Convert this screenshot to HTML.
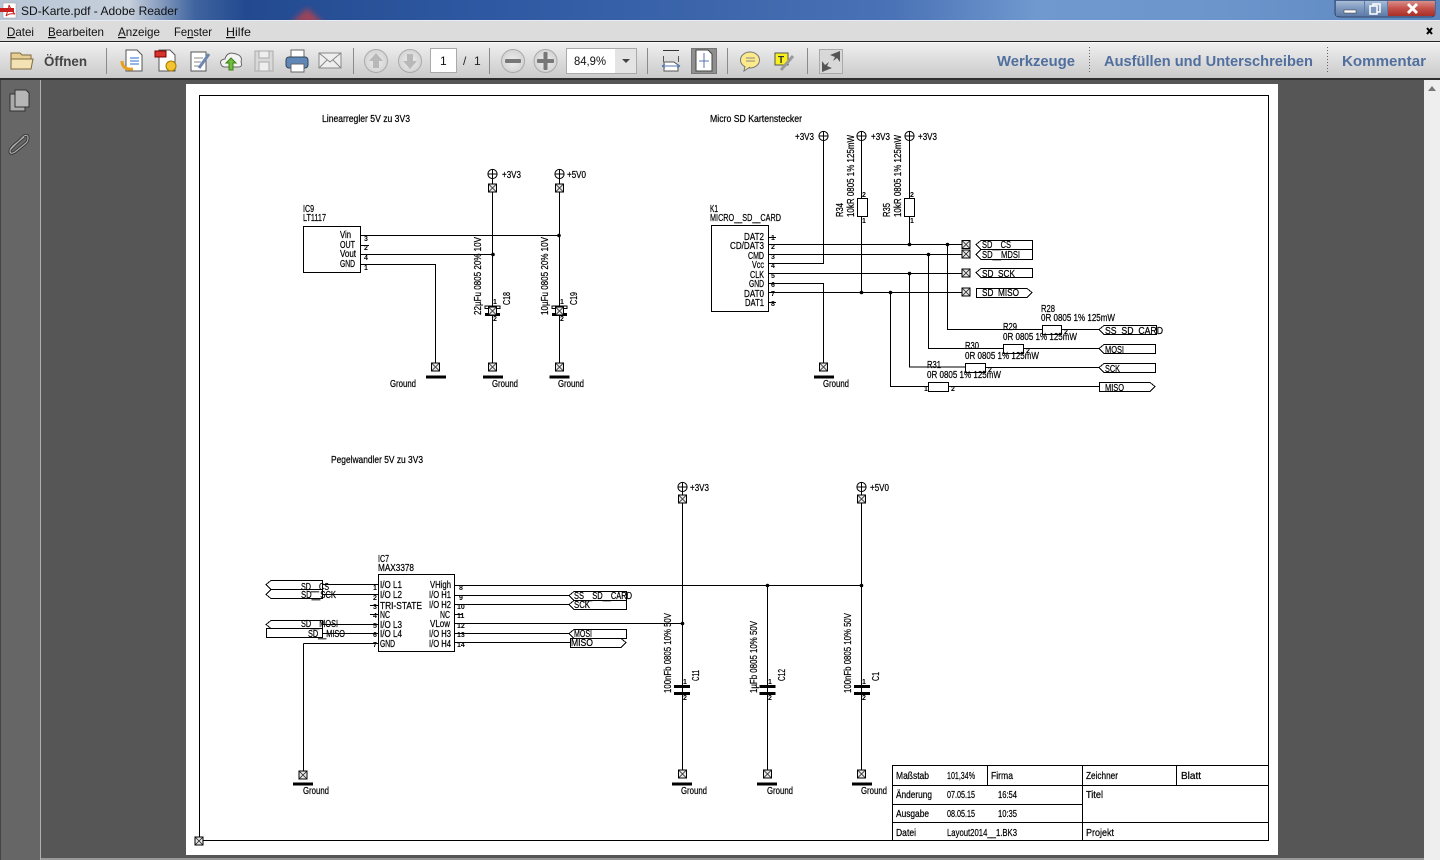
<!DOCTYPE html>
<html><head><meta charset="utf-8"><title>SD-Karte.pdf - Adobe Reader</title>
<style>
html,body{margin:0;padding:0;background:#555;width:1440px;height:860px;overflow:hidden}
svg{position:absolute;left:0;top:0;display:block}
.w{fill:none;stroke:#000;stroke-width:1;shape-rendering:crispEdges}
.t text{font-family:"Liberation Sans",sans-serif;font-size:10px;fill:#000;stroke:#000;stroke-width:.22;white-space:pre}
.p text{font-family:"Liberation Sans",sans-serif;font-size:7px;font-weight:bold;fill:#000}
.u text{font-family:"Liberation Sans",sans-serif}
.m text{font-size:12px;fill:#111}
.b{font-weight:bold;font-size:15px;fill:#506f9e}
</style></head><body>
<svg width="1440" height="860" viewBox="0 0 1440 860" xmlns="http://www.w3.org/2000/svg">
<defs>
<filter id="bl" x="-30%" y="-30%" width="160%" height="160%"><feGaussianBlur stdDeviation="3"/></filter>
<linearGradient id="tb" x1="0" x2="1" y1="0" y2="0">
<stop offset="0" stop-color="#b9c6d6"/><stop offset=".09" stop-color="#c6cfdb"/><stop offset=".135" stop-color="#3f649f"/><stop offset=".17" stop-color="#234a90"/><stop offset=".35" stop-color="#2f5aa3"/><stop offset=".5" stop-color="#3d66ac"/><stop offset=".62" stop-color="#4a72b6"/><stop offset=".72" stop-color="#7099cf"/><stop offset=".85" stop-color="#6b95cb"/><stop offset="1" stop-color="#5c86bf"/>
</linearGradient>
<linearGradient id="tool" x1="0" x2="0" y1="0" y2="1"><stop offset="0" stop-color="#f0f0f0"/><stop offset="1" stop-color="#c9c9c9"/></linearGradient>
<linearGradient id="red" x1="0" x2="0" y1="0" y2="1"><stop offset="0" stop-color="#d9908a"/><stop offset=".5" stop-color="#c4504a"/><stop offset="1" stop-color="#a83028"/></linearGradient>
<linearGradient id="blu" x1="0" x2="0" y1="0" y2="1"><stop offset="0" stop-color="#a8bdd8"/><stop offset=".5" stop-color="#7d97bd"/><stop offset="1" stop-color="#5f7ca8"/></linearGradient>
<radialGradient id="btn"><stop offset="0" stop-color="#eee"/><stop offset="1" stop-color="#d4d4d4"/></radialGradient>
<g id="x"><rect x="-4" y="-4" width="8" height="8" fill="#e8e8e8" stroke="#000" stroke-width="1" shape-rendering="crispEdges"/><path d="M-3.5-3.5L3.5 3.5M3.5-3.5L-3.5 3.5" stroke="#222" stroke-width=".8"/></g>
<g id="pw"><circle r="4.6" fill="#fff" stroke="#000" stroke-width="1"/><path d="M-4.6 0H4.6M0-4.6V4.6" stroke="#000" stroke-width="1"/></g>
<g id="j"><circle r="1.8" fill="#000"/></g>
<g id="gb"><rect x="-10" y="-1.5" width="20" height="3" fill="#000"/></g>
<g id="cp"><rect x="-8" y="-8" width="16" height="3" fill="#000"/><rect x="-8" y="-1" width="16" height="3" fill="#000"/></g>
<g id="rb"><circle r="11.5" fill="url(#btn)" stroke="#aaa"/></g>
</defs>

<!-- window chrome -->
<rect width="1440" height="860" fill="#555"/>
<rect width="1440" height="21" fill="url(#tb)"/>
<path d="M290 24L307 8L325 24Z" fill="#b2434f" opacity=".85" filter="url(#bl)"/>
<rect y="20" width="1440" height="1" fill="#e8edf3"/>
<rect y="21" width="1440" height="21" fill="#dcdcdc"/>
<rect y="41" width="1440" height="1" fill="#222"/>
<rect y="42" width="1440" height="37" fill="url(#tool)"/>
<rect y="42" width="1440" height="1" fill="#fafafa"/>
<rect y="78" width="1440" height="2" fill="#2e2e2e"/>
<rect y="80" x="0" width="41" height="780" fill="#666"/>
<rect y="80" x="0" width="1" height="780" fill="#444"/>
<rect y="80" x="40" width="1" height="780" fill="#b0b0b0"/>
<rect y="80" x="41" width="1383" height="780" fill="#565656"/>
<rect y="80" x="1424" width="16" height="780" fill="#eee"/>
<path d="M1428 91L1432 86L1436 91Z" fill="#777"/>
<rect y="858" x="41" width="1383" height="2" fill="#9a9a9a"/>

<!-- title bar -->
<rect x="3" y="3" width="13" height="15" fill="#fff" stroke="#999" stroke-width=".5"/><rect x="0" y="8" width="14" height="4" fill="#c8201e"/><path d="M6 16Q9 8 9 5Q12 12 15 14Q9 13 6 16" fill="none" stroke="#c8201e" stroke-width="1"/>
<g class="u"><text x="21" y="15" font-size="12" fill="#111" textLength="157" lengthAdjust="spacingAndGlyphs">SD-Karte.pdf - Adobe Reader</text></g>
<path d="M1335 0H1435V13Q1435 17 1431 17H1341Q1335 17 1335 13Z" fill="#5b7cae" stroke="#34496b"/>
<rect x="1336" y="1" width="28" height="15" fill="url(#blu)"/><rect x="1365" y="1" width="22" height="15" fill="url(#blu)"/><rect x="1388" y="1" width="47" height="15" fill="url(#red)"/>
<rect x="1344" y="10" width="12" height="3" fill="#fff" stroke="#333" stroke-width=".5"/>
<rect x="1373" y="4" width="7" height="8" fill="none" stroke="#fff" stroke-width="1.5"/><rect x="1370" y="6" width="7" height="8" fill="#7d97bd" stroke="#fff" stroke-width="1.5"/>
<path d="M1408 4L1417 13M1417 4L1408 13" stroke="#fff" stroke-width="3"/>

<!-- menu -->
<g class="u m">
<text x="7" y="36" textLength="27" lengthAdjust="spacingAndGlyphs"><tspan text-decoration="underline">D</tspan>atei</text>
<text x="48" y="36" textLength="56" lengthAdjust="spacingAndGlyphs"><tspan text-decoration="underline">B</tspan>earbeiten</text>
<text x="118" y="36" textLength="42" lengthAdjust="spacingAndGlyphs"><tspan text-decoration="underline">A</tspan>nzeige</text>
<text x="174" y="36" textLength="38" lengthAdjust="spacingAndGlyphs">Fe<tspan text-decoration="underline">n</tspan>ster</text>
<text x="226" y="36" textLength="25" lengthAdjust="spacingAndGlyphs"><tspan text-decoration="underline">H</tspan>ilfe</text>
</g>
<path d="M1427 28L1432 34M1432 28L1427 34" stroke="#000" stroke-width="2"/>

<!-- toolbar -->
<g class="u">
<path d="M11 53H20L22 55H31V69H11Z" fill="#e7cf94" stroke="#7d6a3c"/><path d="M11 59H33L31 69H11Z" fill="#f3e2b3" stroke="#7d6a3c"/>
<text x="44" y="66" font-size="14" font-weight="bold" fill="#444" textLength="43" lengthAdjust="spacingAndGlyphs">Öffnen</text>
<g fill="#8a8a8a">
<rect x="106" y="48" width="1" height="26"/><rect x="353" y="48" width="1" height="26"/><rect x="489" y="48" width="1" height="26"/><rect x="647" y="48" width="1" height="26"/><rect x="727" y="48" width="1" height="26"/><rect x="807" y="48" width="1" height="26"/>
</g>
<!-- export -->
<path d="M126 50H137L142 55V71H126Z" fill="#fff" stroke="#555"/><path d="M130 58H139M130 61H139M130 64H139" stroke="#2a6fd0"/><path d="M122 61Q122 70 133 69" fill="none" stroke="#e8a020" stroke-width="3"/>
<!-- create -->
<path d="M159 50H170L175 55V71H159Z" fill="#fff" stroke="#555"/><rect x="155" y="51" width="11" height="6" fill="#d8322c" stroke="#700"/><circle cx="171" cy="66" r="5" fill="#f4c430" stroke="#a37a00"/>
<!-- sign -->
<path d="M191 52H206V71H191Z" fill="#fff" stroke="#555"/><path d="M194 58H203M194 62H201M194 66H199" stroke="#888"/><path d="M199 68L209 54" stroke="#6a87b0" stroke-width="3"/>
<!-- cloud -->
<path d="M222 66Q218 60 225 59Q227 51 236 54Q243 56 241 62Q243 67 238 67H224Z" fill="#f3f3f3" stroke="#666"/><path d="M231 58L236 63H233V70H229V63H226Z" fill="#6fbf3c" stroke="#3d7d18"/>
<!-- save -->
<path d="M255 51H273V71H255Z" fill="#d9d9d9" stroke="#aaa"/><rect x="259" y="51" width="10" height="7" fill="#eee" stroke="#aaa"/><rect x="259" y="62" width="10" height="9" fill="#eee" stroke="#aaa"/>
<!-- print -->
<rect x="291" y="50" width="13" height="8" fill="#fff" stroke="#666"/><rect x="286" y="57" width="22" height="11" rx="3" fill="#5f88b8" stroke="#345"/><rect x="291" y="64" width="13" height="8" fill="#fff" stroke="#666"/>
<!-- mail -->
<rect x="319" y="53" width="22" height="15" fill="#eee" stroke="#888"/><path d="M319 53L330 62L341 53M319 68L327 60M341 68L333 60" fill="none" stroke="#888"/>
<!-- nav -->
<use href="#rb" x="376" y="61"/><use href="#rb" x="410" y="61"/>
<path d="M376 53L383 61H379V68H373V61H369Z" fill="#b8b8b8"/><path d="M410 69L417 61H413V54H407V61H403Z" fill="#b8b8b8"/>
<rect x="430.500" y="48.500" width="26" height="24" fill="#fff" stroke="#aaa"/>
<text x="440" y="65" font-size="12" fill="#111">1</text>
<text x="463" y="65" font-size="12" fill="#222">/</text><text x="474" y="65" font-size="12" fill="#222">1</text>
<use href="#rb" x="513" y="61"/><use href="#rb" x="545.500" y="61"/>
<rect x="505" y="59" width="16" height="4" rx="1" fill="#777"/><rect x="537" y="59" width="17" height="4" rx="1" fill="#777"/><rect x="543.500" y="52" width="4" height="18" rx="1" fill="#777"/>
<rect x="566.500" y="48.500" width="70" height="25" fill="#fff" stroke="#aaa"/>
<rect x="615" y="49" width="21" height="24" fill="#e4e4e4"/>
<text x="574" y="65" font-size="12" fill="#111" textLength="32" lengthAdjust="spacingAndGlyphs">84,9%</text>
<path d="M622 59H630L626 63Z" fill="#444"/>
<!-- view -->
<rect x="663" y="50" width="16" height="1" fill="#333"/><path d="M664 62H674L678 65V71H664Z" fill="#fff" stroke="#555"/><path d="M662 66H680M662 66L665 64M662 66L665 68M680 66L677 64M680 66L677 68" stroke="#5577b0" fill="none"/><rect x="663" y="56" width="1" height="6" fill="#555"/><rect x="678" y="56" width="1" height="6" fill="#555"/>
<rect x="691.500" y="48.500" width="25" height="25" fill="#8f8f8f" stroke="#777"/><path d="M696 50H708L712 54V71H696Z" fill="#fff" stroke="#444"/><path d="M704 53V68M699 61H709" stroke="#5577b0"/>
<!-- comment -->
<ellipse cx="750" cy="60" rx="9.500" ry="8" fill="#fbe98a" stroke="#777"/><path d="M745 66L744 71L750 67" fill="#fbe98a" stroke="#777"/><path d="M746 58H755M746 61H755" stroke="#888"/>
<rect x="775" y="53" width="13" height="12" fill="#f7f01e" stroke="#555"/><text x="778" y="63" font-size="10" font-weight="bold" fill="#333">T</text><path d="M781 70L793 56" stroke="#9a9a9a" stroke-width="3"/>
<rect x="819.500" y="49.500" width="23" height="24" fill="#d8d8d8" stroke="#aaa"/><path d="M840 51L830 55L835 57L833 61L837 58L840 62Z M822 72L832 68L827 66L829 62L825 65L822 61Z" fill="#555"/>
<text x="997" y="66" class="b" textLength="78" lengthAdjust="spacingAndGlyphs">Werkzeuge</text>
<text x="1104" y="66" class="b" textLength="209" lengthAdjust="spacingAndGlyphs">Ausfüllen und Unterschreiben</text>
<text x="1342" y="66" class="b" textLength="84" lengthAdjust="spacingAndGlyphs">Kommentar</text>
<path d="M1089.500 47V74M1327.500 47V74" stroke="#666" stroke-dasharray="1 2"/>
</g>
<!-- left panel icons -->
<rect x="10" y="94" width="15" height="17" fill="#aaa" stroke="#333"/><path d="M15 90H26L29 93V107H15Z" fill="#b6b6b6" stroke="#333"/>
<path d="M10 150L24 136Q28 134 28 138Q28 141 26 143L15 152Q10 155 10 151Q10 149 13 146L24 137" fill="none" stroke="#333" stroke-width="3"/><path d="M10 150L24 136Q28 134 28 138Q28 141 26 143L15 152Q10 155 10 151Q10 149 13 146L24 137" fill="none" stroke="#aaa" stroke-width="1.200"/>

<!-- page -->
<rect x="186" y="84" width="1092" height="771" fill="#fff"/>
<rect class="w" x="199.500" y="95.500" width="1069" height="745"/>
<use href="#x" x="199" y="841"/>

<!-- WIRES -->
<path class="w" d="
M361 235.500H559M361 245.500H369M361 254.500H493M361 264.500H435.500V367
M492.500 179V368M559.500 179V368
M303.500 226.500H360.500V272.500H303.500Z
M711.500 225.500H768.500V311.500H711.500Z
M768 237.500H776M768 244.500H962M768 254.500H962M768 263.500H823.500V141M768 273.500H962M768 283.500H823.500V367M768 292.500H962M768 302.500H776
M861.500 141V198M861.500 216V292M909.500 141V198M909.500 216V244M909.500 273V367H965M947.500 244V329.500H1042M928.500 254V348.500H1003M890.500 292V386.500H928
M985 367.500H1099M1023 348.500H1099M1061 329.500H1099M948 386.500H1099
M857.500 198.500H867.500V216.500H857.500ZM904.500 198.500H914.500V216.500H904.500Z
M1042.500 325.500H1061.500V334.500H1042.500ZM1003.500 344.500H1023.500V353.500H1003.500ZM965.500 363.500H985.500V372.500H965.500ZM928.500 382.500H948.500V391.500H928.500Z
M976 244.500L981 240.500H1032.500V249.500H981Z
M976 254.500L981 249.500H1032.500V259.500H981Z
M976 272.500L981 268.500H1032.500V277.500H981Z
M976.500 288.500H1027L1032 292.500L1027 297.500H976.500Z
M1099 329.500L1104 325.500H1156.500V334.500H1104Z
M1099 348.500L1104 344.500H1155.500V353.500H1104Z
M1099 367.500L1104 363.500H1155.500V372.500H1104Z
M1099.500 382.500H1150L1155 386.500L1150 391.500H1099.500Z
M378.500 574.500H454.500V651.500H378.500Z
M322 584.500H378M322 594.500H378M370 605.500H378M370 614.500H378M322 624.500H378M322 633.500H378M303.500 643.500H378M303.500 643.500V775
M266 584.500L271 580.500H322.500V589.500H271Z
M266 594.500L271 589.500H322.500V598.500H271Z
M266 624.500L271 620.500H322.500V628.500H271Z
M266.500 628.500H322.500V637.500H266.500Z
M454 585.500H862M454 595.500H570M454 604.500H570M454 614.500H462M454 623.500H682M454 633.500H570M454 642.500H570
M682.500 491V775M767.500 585V775M861.500 491V775
M569 595.500L574 591.500H626.500V600.500H574Z
M569 604.500L574 600.500H626.500V609.500H574Z
M569 633.500L574 629.500H626.500V638.500H574Z
M570.500 638.500H621L626 642.500L621 647.500H570.500Z
M892.500 765.500H1268.500V840.500H892.500Z
M892 785.500H1268M892 804.500H1082M892 822.500H1268
M987.500 765V785M1082.500 765V840M1176.500 765V785
"/>

<!-- junctions -->
<use href="#j" x="559" y="235.500"/><use href="#j" x="493" y="254.500"/>
<use href="#j" x="909.500" y="244.500"/><use href="#j" x="947.500" y="244.500"/><use href="#j" x="928.500" y="254.500"/><use href="#j" x="909.500" y="273.500"/><use href="#j" x="861.500" y="292.500"/><use href="#j" x="890.500" y="292.500"/>
<use href="#j" x="767.500" y="585.500"/><use href="#j" x="861.500" y="585.500"/><use href="#j" x="682.500" y="623.500"/>

<!-- power -->
<use href="#pw" x="492.500" y="174"/><use href="#pw" x="559.500" y="174"/>
<use href="#pw" x="823.500" y="136"/><use href="#pw" x="861.500" y="136"/><use href="#pw" x="909.500" y="136"/>
<use href="#pw" x="682.500" y="487"/><use href="#pw" x="861.500" y="487"/>

<!-- boxes -->
<use href="#x" x="492.500" y="188"/><use href="#x" x="559.500" y="188"/>
<use href="#x" x="435.500" y="367"/><use href="#x" x="492.500" y="367"/><use href="#x" x="559.500" y="367"/>
<use href="#x" x="823.500" y="367"/>
<use href="#x" x="966" y="244.500"/><use href="#x" x="966" y="254"/><use href="#x" x="966" y="273"/><use href="#x" x="966" y="292"/>
<use href="#x" x="682.500" y="499"/><use href="#x" x="861.500" y="499"/>
<use href="#x" x="303" y="775"/><use href="#x" x="682.500" y="774"/><use href="#x" x="767.500" y="774"/><use href="#x" x="861.500" y="774"/>
<!-- ground -->
<use href="#gb" x="436" y="377"/><use href="#gb" x="493" y="377"/><use href="#gb" x="559.500" y="377"/><use href="#gb" x="824" y="377"/>
<use href="#gb" x="303" y="784"/><use href="#gb" x="682" y="784"/><use href="#gb" x="767" y="784"/><use href="#gb" x="862" y="784"/>
<!-- caps -->
<rect x="485" y="306" width="15" height="2.500" fill="#fff" stroke="#000"/><rect x="485" y="313" width="15" height="3" fill="#000"/>
<rect x="552" y="306" width="15" height="2.500" fill="#fff" stroke="#000"/><rect x="552" y="313" width="15" height="3" fill="#000"/>
<use href="#x" x="492.500" y="311"/><use href="#x" x="559.500" y="311"/>
<use href="#cp" x="682" y="693"/><use href="#cp" x="767.500" y="693"/><use href="#cp" x="862" y="693"/>

<!-- TEXT -->
<g class="t">
<text x="322" y="122" textLength="88" lengthAdjust="spacingAndGlyphs">Linearregler 5V zu 3V3</text>
<text x="710" y="122" textLength="92" lengthAdjust="spacingAndGlyphs">Micro SD Kartenstecker</text>
<text x="331" y="463" textLength="92" lengthAdjust="spacingAndGlyphs">Pegelwandler 5V zu 3V3</text>

<text x="303" y="212" textLength="11" lengthAdjust="spacingAndGlyphs">IC9</text>
<text x="303" y="221" textLength="23" lengthAdjust="spacingAndGlyphs">LT1117</text>
<text x="340" y="238" textLength="11" lengthAdjust="spacingAndGlyphs">Vin</text>
<text x="340" y="248" textLength="15" lengthAdjust="spacingAndGlyphs">OUT</text>
<text x="340" y="257" textLength="16" lengthAdjust="spacingAndGlyphs">Vout</text>
<text x="340" y="267" textLength="15" lengthAdjust="spacingAndGlyphs">GND</text>

<text x="502" y="178" textLength="19" lengthAdjust="spacingAndGlyphs">+3V3</text>
<text x="567" y="178" textLength="19" lengthAdjust="spacingAndGlyphs">+5V0</text>
<text x="390" y="387" textLength="26" lengthAdjust="spacingAndGlyphs">Ground</text>
<text x="492" y="387" textLength="26" lengthAdjust="spacingAndGlyphs">Ground</text>
<text x="558" y="387" textLength="26" lengthAdjust="spacingAndGlyphs">Ground</text>
<text transform="translate(481 315) rotate(-90)" textLength="78" lengthAdjust="spacingAndGlyphs">22µFu 0805 20% 10V</text>
<text transform="translate(548 315) rotate(-90)" textLength="78" lengthAdjust="spacingAndGlyphs">10µFu 0805 20% 10V</text>
<text transform="translate(510 305) rotate(-90)" textLength="13" lengthAdjust="spacingAndGlyphs">C18</text>
<text transform="translate(577 305) rotate(-90)" textLength="13" lengthAdjust="spacingAndGlyphs">C19</text>

<text x="710" y="212" textLength="8" lengthAdjust="spacingAndGlyphs">K1</text>
<text x="710" y="221" textLength="71" lengthAdjust="spacingAndGlyphs">MICRO__SD__CARD</text>
<text x="744" y="240" textLength="20" lengthAdjust="spacingAndGlyphs">DAT2</text>
<text x="730" y="249" textLength="34" lengthAdjust="spacingAndGlyphs">CD/DAT3</text>
<text x="748" y="259" textLength="16" lengthAdjust="spacingAndGlyphs">CMD</text>
<text x="752" y="268" textLength="12" lengthAdjust="spacingAndGlyphs">Vcc</text>
<text x="750" y="278" textLength="14" lengthAdjust="spacingAndGlyphs">CLK</text>
<text x="749" y="287" textLength="15" lengthAdjust="spacingAndGlyphs">GND</text>
<text x="744" y="297" textLength="20" lengthAdjust="spacingAndGlyphs">DAT0</text>
<text x="745" y="306" textLength="19" lengthAdjust="spacingAndGlyphs">DAT1</text>

<text x="795" y="140" textLength="19" lengthAdjust="spacingAndGlyphs">+3V3</text>
<text x="871" y="140" textLength="19" lengthAdjust="spacingAndGlyphs">+3V3</text>
<text x="918" y="140" textLength="19" lengthAdjust="spacingAndGlyphs">+3V3</text>
<text x="823" y="387" textLength="26" lengthAdjust="spacingAndGlyphs">Ground</text>
<text transform="translate(843 217) rotate(-90)" textLength="14" lengthAdjust="spacingAndGlyphs">R34</text>
<text transform="translate(854 217) rotate(-90)" textLength="82" lengthAdjust="spacingAndGlyphs">10kR 0805 1% 125mW</text>
<text transform="translate(890 217) rotate(-90)" textLength="14" lengthAdjust="spacingAndGlyphs">R35</text>
<text transform="translate(901 217) rotate(-90)" textLength="82" lengthAdjust="spacingAndGlyphs">10kR 0805 1% 125mW</text>

<text x="982" y="248" textLength="29" lengthAdjust="spacingAndGlyphs">SD__CS</text>
<text x="982" y="258" textLength="38" lengthAdjust="spacingAndGlyphs">SD__MDSI</text>
<text x="982" y="277" textLength="33" lengthAdjust="spacingAndGlyphs">SD  SCK</text>
<text x="982" y="296" textLength="37" lengthAdjust="spacingAndGlyphs">SD  MISO</text>

<text x="1041" y="312" textLength="14" lengthAdjust="spacingAndGlyphs">R28</text>
<text x="1041" y="321" textLength="74" lengthAdjust="spacingAndGlyphs">0R 0805 1% 125mW</text>
<text x="1003" y="330" textLength="14" lengthAdjust="spacingAndGlyphs">R29</text>
<text x="1003" y="340" textLength="74" lengthAdjust="spacingAndGlyphs">0R 0805 1% 125mW</text>
<text x="965" y="349" textLength="14" lengthAdjust="spacingAndGlyphs">R30</text>
<text x="965" y="359" textLength="74" lengthAdjust="spacingAndGlyphs">0R 0805 1% 125mW</text>
<text x="927" y="368" textLength="14" lengthAdjust="spacingAndGlyphs">R31</text>
<text x="927" y="378" textLength="74" lengthAdjust="spacingAndGlyphs">0R 0805 1% 125mW</text>
<text x="1105" y="334" textLength="58" lengthAdjust="spacingAndGlyphs">SS  SD  CARD</text>
<text x="1105" y="353" textLength="19" lengthAdjust="spacingAndGlyphs">MOSI</text>
<text x="1105" y="372" textLength="15" lengthAdjust="spacingAndGlyphs">SCK</text>
<text x="1105" y="391" textLength="19" lengthAdjust="spacingAndGlyphs">MISO</text>

<text x="378" y="562" textLength="11" lengthAdjust="spacingAndGlyphs">IC7</text>
<text x="378" y="571" textLength="36" lengthAdjust="spacingAndGlyphs">MAX3378</text>
<text x="301" y="590" textLength="28" lengthAdjust="spacingAndGlyphs">SD__CS</text>
<text x="301" y="598" textLength="35" lengthAdjust="spacingAndGlyphs">SD__SCK</text>
<text x="301" y="627" textLength="37" lengthAdjust="spacingAndGlyphs">SD__MOSI</text>
<text x="308" y="637" textLength="37" lengthAdjust="spacingAndGlyphs">SD__MISO</text>
<text x="380" y="588" textLength="22" lengthAdjust="spacingAndGlyphs">I/O L1</text>
<text x="380" y="598" textLength="22" lengthAdjust="spacingAndGlyphs">I/O L2</text>
<text x="380" y="609" textLength="42" lengthAdjust="spacingAndGlyphs">TRI-STATE</text>
<text x="380" y="618" textLength="10" lengthAdjust="spacingAndGlyphs">NC</text>
<text x="380" y="628" textLength="22" lengthAdjust="spacingAndGlyphs">I/O L3</text>
<text x="380" y="637" textLength="22" lengthAdjust="spacingAndGlyphs">I/O L4</text>
<text x="380" y="647" textLength="15" lengthAdjust="spacingAndGlyphs">GND</text>
<text x="430" y="588" textLength="21" lengthAdjust="spacingAndGlyphs">VHigh</text>
<text x="429" y="598" textLength="22" lengthAdjust="spacingAndGlyphs">I/O H1</text>
<text x="429" y="608" textLength="22" lengthAdjust="spacingAndGlyphs">I/O H2</text>
<text x="440" y="618" textLength="10" lengthAdjust="spacingAndGlyphs">NC</text>
<text x="430" y="627" textLength="20" lengthAdjust="spacingAndGlyphs">VLow</text>
<text x="429" y="637" textLength="22" lengthAdjust="spacingAndGlyphs">I/O H3</text>
<text x="429" y="647" textLength="22" lengthAdjust="spacingAndGlyphs">I/O H4</text>
<text x="574" y="599" textLength="58" lengthAdjust="spacingAndGlyphs">SS__SD__CARD</text>
<text x="574" y="608" textLength="16" lengthAdjust="spacingAndGlyphs">SCK</text>
<text x="574" y="637" textLength="18" lengthAdjust="spacingAndGlyphs">MOSI</text>
<text x="571" y="646" textLength="22" lengthAdjust="spacingAndGlyphs">MISO</text>

<text x="690" y="491" textLength="19" lengthAdjust="spacingAndGlyphs">+3V3</text>
<text x="870" y="491" textLength="19" lengthAdjust="spacingAndGlyphs">+5V0</text>
<text transform="translate(671 693) rotate(-90)" textLength="80" lengthAdjust="spacingAndGlyphs">100nFb 0805 10% 50V</text>
<text transform="translate(699 681) rotate(-90)" textLength="11" lengthAdjust="spacingAndGlyphs">C11</text>
<text transform="translate(757 693) rotate(-90)" textLength="72" lengthAdjust="spacingAndGlyphs">1µFb 0805 10% 50V</text>
<text transform="translate(785 681) rotate(-90)" textLength="12" lengthAdjust="spacingAndGlyphs">C12</text>
<text transform="translate(851 693) rotate(-90)" textLength="80" lengthAdjust="spacingAndGlyphs">100nFb 0805 10% 50V</text>
<text transform="translate(879 681) rotate(-90)" textLength="9" lengthAdjust="spacingAndGlyphs">C1</text>
<text x="303" y="794" textLength="26" lengthAdjust="spacingAndGlyphs">Ground</text>
<text x="681" y="794" textLength="26" lengthAdjust="spacingAndGlyphs">Ground</text>
<text x="767" y="794" textLength="26" lengthAdjust="spacingAndGlyphs">Ground</text>
<text x="861" y="794" textLength="26" lengthAdjust="spacingAndGlyphs">Ground</text>

<text x="896" y="779" textLength="33" lengthAdjust="spacingAndGlyphs">Maßstab</text>
<text x="947" y="779" textLength="28" lengthAdjust="spacingAndGlyphs">101,34%</text>
<text x="991" y="779" textLength="22" lengthAdjust="spacingAndGlyphs">Firma</text>
<text x="1086" y="779" textLength="32" lengthAdjust="spacingAndGlyphs">Zeichner</text>
<text x="1181" y="779" textLength="20" lengthAdjust="spacingAndGlyphs">Blatt</text>
<text x="896" y="798" textLength="36" lengthAdjust="spacingAndGlyphs">Änderung</text>
<text x="947" y="798" textLength="28" lengthAdjust="spacingAndGlyphs">07.05.15</text>
<text x="998" y="798" textLength="19" lengthAdjust="spacingAndGlyphs">16:54</text>
<text x="1086" y="798" textLength="17" lengthAdjust="spacingAndGlyphs">Titel</text>
<text x="896" y="817" textLength="33" lengthAdjust="spacingAndGlyphs">Ausgabe</text>
<text x="947" y="817" textLength="28" lengthAdjust="spacingAndGlyphs">08.05.15</text>
<text x="998" y="817" textLength="19" lengthAdjust="spacingAndGlyphs">10:35</text>
<text x="896" y="836" textLength="20" lengthAdjust="spacingAndGlyphs">Datei</text>
<text x="947" y="836" textLength="70" lengthAdjust="spacingAndGlyphs">Layout2014__1.BK3</text>
<text x="1086" y="836" textLength="28" lengthAdjust="spacingAndGlyphs">Projekt</text>
</g>

<!-- pin numbers -->
<g class="p">
<text x="364" y="241">3</text><text x="364" y="250">2</text><text x="364" y="260">4</text><text x="364" y="270">1</text>
<text x="771" y="240">1</text><text x="771" y="249">2</text><text x="771" y="259">3</text><text x="771" y="268">4</text><text x="771" y="278">5</text><text x="771" y="287">6</text><text x="771" y="296">7</text><text x="771" y="306">8</text>
<text x="862" y="197">2</text><text x="862" y="223">1</text><text x="910" y="197">2</text><text x="910" y="223">1</text>
<text x="493" y="304">1</text><text x="493" y="321">2</text><text x="560" y="304">1</text><text x="560" y="321">2</text>
<text x="683" y="684">1</text><text x="683" y="700">2</text><text x="768" y="684">1</text><text x="768" y="700">2</text><text x="862" y="684">1</text><text x="862" y="700">2</text>
<text x="924" y="391">1</text><text x="951" y="391">2</text><text x="1064" y="334">2</text><text x="1026" y="353">2</text><text x="988" y="372">2</text>
<text x="373" y="590">1</text><text x="373" y="600">2</text><text x="373" y="609">3</text><text x="373" y="618">4</text><text x="373" y="628">5</text><text x="373" y="637">6</text><text x="373" y="647">7</text>
<text x="459" y="590">8</text><text x="459" y="600">9</text><text x="457" y="609">10</text><text x="457" y="618">11</text><text x="457" y="628">12</text><text x="457" y="637">13</text><text x="457" y="647">14</text>
</g>
</svg>
</body></html>
